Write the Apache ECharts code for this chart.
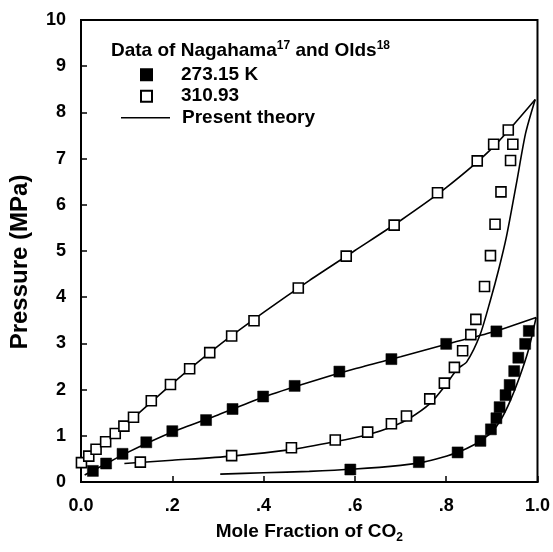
<!DOCTYPE html>
<html>
<head>
<meta charset="utf-8">
<script src="https://cdn.jsdelivr.net/npm/echarts@6/dist/echarts.min.js"></script>
<style>html,body{margin:0;padding:0;background:#fff;}#c{width:553px;height:552px;}</style>
</head>
<body>
<div id="c"></div>
<script>
// Experimental data (mole fraction of CO2, pressure MPa)
const bubble273 = [[0.026,0.24],[0.055,0.40],[0.091,0.61],[0.143,0.86],[0.200,1.10],[0.274,1.34],[0.332,1.58],[0.399,1.85],[0.468,2.08],[0.566,2.39],[0.680,2.66],[0.800,2.99],[0.910,3.26]];
const dew273 = [[0.590,0.27],[0.740,0.43],[0.825,0.64],[0.875,0.89],[0.898,1.14],[0.910,1.38],[0.917,1.62],[0.930,1.88],[0.939,2.10],[0.949,2.40],[0.958,2.69],[0.973,2.99],[0.981,3.27]];
const bubble310 = [[0.001,0.42],[0.017,0.56],[0.033,0.71],[0.054,0.87],[0.075,1.05],[0.094,1.21],[0.115,1.40],[0.154,1.76],[0.196,2.11],[0.238,2.45],[0.282,2.80],[0.330,3.16],[0.379,3.49],[0.476,4.20],[0.581,4.89],[0.686,5.56],[0.781,6.26],[0.868,6.95],[0.904,7.31],[0.936,7.62]];
const dew310 = [[0.130,0.43],[0.330,0.57],[0.461,0.74],[0.557,0.91],[0.628,1.08],[0.680,1.26],[0.713,1.43],[0.764,1.80],[0.796,2.14],[0.818,2.48],[0.836,2.84],[0.854,3.19],[0.865,3.52],[0.884,4.23],[0.897,4.90],[0.907,5.58],[0.920,6.28],[0.941,6.96],[0.946,7.31]];
// Present theory curves
const theory273Bubble = [[0.008,0.15],[0.05,0.37],[0.1,0.63],[0.2,1.08],[0.3,1.45],[0.4,1.84],[0.5,2.16],[0.6,2.45],[0.7,2.71],[0.8,2.98],[0.9,3.24],[0.997,3.56]];
const theory273Dew = [[0.305,0.17],[0.4,0.20],[0.5,0.23],[0.6,0.28],[0.7,0.36],[0.75,0.43],[0.79,0.53],[0.83,0.66],[0.86,0.80],[0.88,0.93],[0.9,1.08],[0.92,1.35],[0.94,1.75],[0.96,2.25],[0.98,2.85],[0.997,3.56]];
const theory310Bubble = [[0.0,0.40],[0.02,0.57],[0.05,0.85],[0.1,1.26],[0.2,2.13],[0.3,2.94],[0.4,3.67],[0.5,4.36],[0.6,5.01],[0.7,5.66],[0.8,6.37],[0.9,7.22],[0.995,8.28]];
const theory310Dew = [[0.095,0.40],[0.2,0.47],[0.33,0.56],[0.46,0.70],[0.555,0.87],[0.63,1.03],[0.68,1.19],[0.72,1.38],[0.765,1.70],[0.796,2.06],[0.825,2.45],[0.845,2.60],[0.874,3.18],[0.897,3.94],[0.915,4.60],[0.932,5.31],[0.954,6.47],[0.974,7.55],[0.995,8.28]];
// Axis ticks
const xTicks = {min:0, max:1, interval:0.2};
const yTicks = {min:0, max:10, interval:1};
const xTickLabel = v => (Math.abs(v) < 1e-9 ? '0.0' : Math.abs(v-1) < 1e-9 ? '1.0' : '.' + Math.round(v*10));

const FONT = 'Liberation Sans, Arial, Helvetica, sans-serif';
const chart = echarts.init(document.getElementById('c'), null, {renderer:'canvas'});

function theoryLine(data){
  return {name:'Present theory', type:'line', data:data, symbol:'none', showSymbol:false, smooth:0.25,
    lineStyle:{color:'#000', width:1.6}, itemStyle:{color:'#000'}, z:2, silent:true, animation:false};
}
const legendText = {fontFamily:FONT, fontSize:19, fontWeight:'bold', color:'#000', lineHeight:21.5};

chart.setOption({
  backgroundColor:'#fff',
  animation:false,
  title:{
    text:'Data of Nagahama{sup|17} and Olds{sup|18}',
    left:111, top:40, padding:0,
    textStyle:{fontFamily:FONT, fontSize:19, fontWeight:'bold', color:'#000', lineHeight:22,
      rich:{sup:{fontFamily:FONT, fontSize:12, fontWeight:'bold', color:'#000', lineHeight:12, verticalAlign:'top'}}}
  },
  legend:[
    {
      orient:'vertical', left:140, top:64, padding:0, itemGap:0,
      itemWidth:11, itemHeight:11,
      data:['273.15 K','310.93'],
      textStyle:Object.assign({padding:[0,0,0,24]}, legendText)
    },
    {
      orient:'vertical', left:121, top:107, padding:0, itemGap:0,
      itemWidth:49, itemHeight:1.6,
      data:[{name:'Present theory', icon:'rect', itemStyle:{color:'#000'}}],
      textStyle:Object.assign({padding:[0,0,0,7]}, legendText)
    }
  ],
  grid:{left:77, right:15, top:20, bottom:70, show:true, borderColor:'#000', borderWidth:2, backgroundColor:'transparent'},
  xAxis:{
    type:'value', min:xTicks.min, max:xTicks.max, interval:xTicks.interval,
    name:'Mole Fraction of CO{sub|2}', nameLocation:'middle', nameGap:38,
    nameTextStyle:{fontFamily:FONT, fontSize:19, fontWeight:'bold', color:'#000', lineHeight:24,
      rich:{sub:{fontFamily:FONT, fontSize:12, fontWeight:'bold', color:'#000', lineHeight:12, verticalAlign:'bottom'}}},
    axisLine:{show:true, lineStyle:{color:'#000', width:2}},
    axisTick:{show:true, inside:true, length:6, lineStyle:{color:'#000', width:1.5}},
    axisLabel:{fontFamily:FONT, fontSize:18, fontWeight:'bold', color:'#000', margin:15, formatter:xTickLabel},
    splitLine:{show:false}
  },
  yAxis:{
    type:'value', min:yTicks.min, max:yTicks.max, interval:yTicks.interval,
    name:'Pressure (MPa)', nameLocation:'middle', nameGap:49,
    nameTextStyle:{fontFamily:FONT, fontSize:24, fontWeight:'bold', color:'#000', padding:[0,22,0,0]},
    axisLine:{show:true, lineStyle:{color:'#000', width:2}},
    axisTick:{show:true, inside:true, length:6, lineStyle:{color:'#000', width:1.5}},
    axisLabel:{fontFamily:FONT, fontSize:18, fontWeight:'bold', color:'#000', margin:15},
    splitLine:{show:false}
  },
  series:[
    theoryLine(theory273Bubble),
    theoryLine(theory273Dew),
    theoryLine(theory310Bubble),
    theoryLine(theory310Dew),
    {name:'273.15 K', type:'scatter', data:bubble273.concat(dew273), symbol:'rect', symbolSize:11,
      itemStyle:{color:'#000', borderColor:'#000', borderWidth:0.5, opacity:1}, z:3},
    {name:'310.93', type:'scatter', data:bubble310.concat(dew310), symbol:'rect', symbolSize:10,
      itemStyle:{color:'#fff', borderColor:'#000', borderWidth:1.6, opacity:1}, z:4}
  ]
});
</script>
</body>
</html>
